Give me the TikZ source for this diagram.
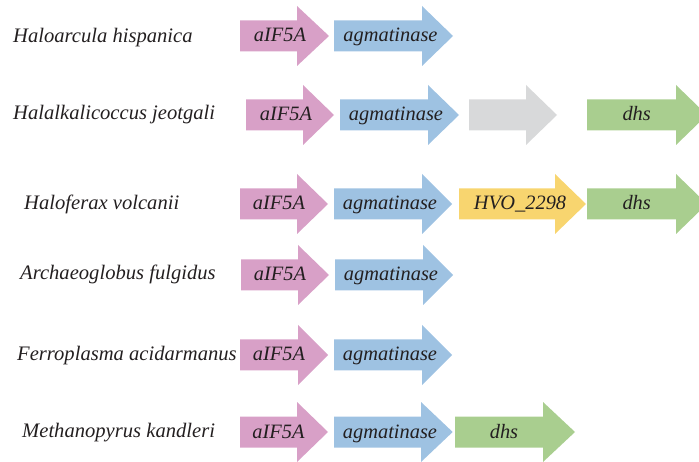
\documentclass[tikz,border=0pt]{standalone}
\usepackage{fontspec}
\setmainfont{Liberation Serif}
\definecolor{cpink}{RGB}{216,160,199}
\definecolor{cblue}{RGB}{158,194,226}
\definecolor{cgray}{RGB}{216,217,218}
\definecolor{cgreen}{RGB}{169,206,143}
\definecolor{cyellow}{RGB}{248,213,111}
\definecolor{ctext}{RGB}{35,31,32}
% #1 left x, #2 head start x, #3 tip x, #4 centre y (pixels, downwards), #5 colour
\newcommand{\genearrow}[5]{%
  \fill[#5] (#1,-#4+15.5) -- (#2,-#4+15.5) -- (#2,-#4+30) -- (#3,-#4)
    -- (#2,-#4-30) -- (#2,-#4-15.5) -- (#1,-#4-15.5) -- cycle;}
\begin{document}
\begin{tikzpicture}[x=1pt,y=1pt,
  genetext/.style={anchor=base,inner sep=0pt,text=ctext,font=\fontsize{20.4}{22}\selectfont\itshape},
  orglabel/.style={anchor=base west,inner sep=0pt,text=ctext,font=\fontsize{20.6}{22}\selectfont\itshape}]
\useasboundingbox (0,0) rectangle (699,-462);
\clip (0,0) rectangle (699,-462);
% Row 1
\genearrow{240}{297}{329}{36}{cpink}
\genearrow{334}{422}{453}{36}{cblue}
\node[orglabel] (o1) at (13,-42.7) {Haloarcula hispanica};
\node[genetext] (a1) at (280,-42) {aIF5A};
\node[genetext] (b1) at (390.5,-42) {agmatinase};
% Row 2
\genearrow{246}{303}{334}{115}{cpink}
\genearrow{340}{428}{459}{115}{cblue}
\genearrow{469}{526}{557}{115}{cgray}
\genearrow{587}{676}{707}{115}{cgreen}
\node[orglabel] (o2) at (13,-120) {Halalkalicoccus jeotgali};
\node[genetext] (a2) at (286,-121) {aIF5A};
\node[genetext] (b2) at (396,-121) {agmatinase};
\node[genetext] (d2) at (636.7,-121) {dhs};
% Row 3
\genearrow{240}{297}{328}{204}{cpink}
\genearrow{334}{422}{452}{204}{cblue}
\genearrow{459}{555}{586}{204}{cyellow}
\genearrow{587}{676}{707}{204}{cgreen}
\node[orglabel] (o3) at (24,-209.5) {Haloferax volcanii};
\node[genetext] (a3) at (279,-210) {aIF5A};
\node[genetext] (b3) at (390,-210) {agmatinase};
\node[genetext] (h3) at (520,-210) {HVO\_2298};
\node[genetext] (d3) at (636.7,-210) {dhs};
% Row 4
\genearrow{241}{298}{329}{275}{cpink}
\genearrow{335}{423}{453}{275}{cblue}
\node[orglabel] (o4) at (20,-280) {Archaeoglobus fulgidus};
\node[genetext] (a4) at (280,-281) {aIF5A};
\node[genetext] (b4) at (391,-281) {agmatinase};
% Row 5
\genearrow{240}{298}{328}{355}{cpink}
\genearrow{334}{422}{452}{355}{cblue}
\node[orglabel] (o5) at (17,-360) {Ferroplasma acidarmanus};
\node[genetext] (a5) at (279,-361) {aIF5A};
\node[genetext] (b5) at (390,-361) {agmatinase};
% Row 6
\genearrow{240}{297}{328}{432}{cpink}
\genearrow{334}{421}{452.7}{432}{cblue}
\genearrow{455}{543}{575}{432}{cgreen}
\node[orglabel] (o6) at (22,-437) {Methanopyrus kandleri};
\node[genetext] (a6) at (278.5,-438) {aIF5A};
\node[genetext] (b6) at (390,-438) {agmatinase};
\node[genetext] (d6) at (504,-438) {dhs};
\end{tikzpicture}
\end{document}
